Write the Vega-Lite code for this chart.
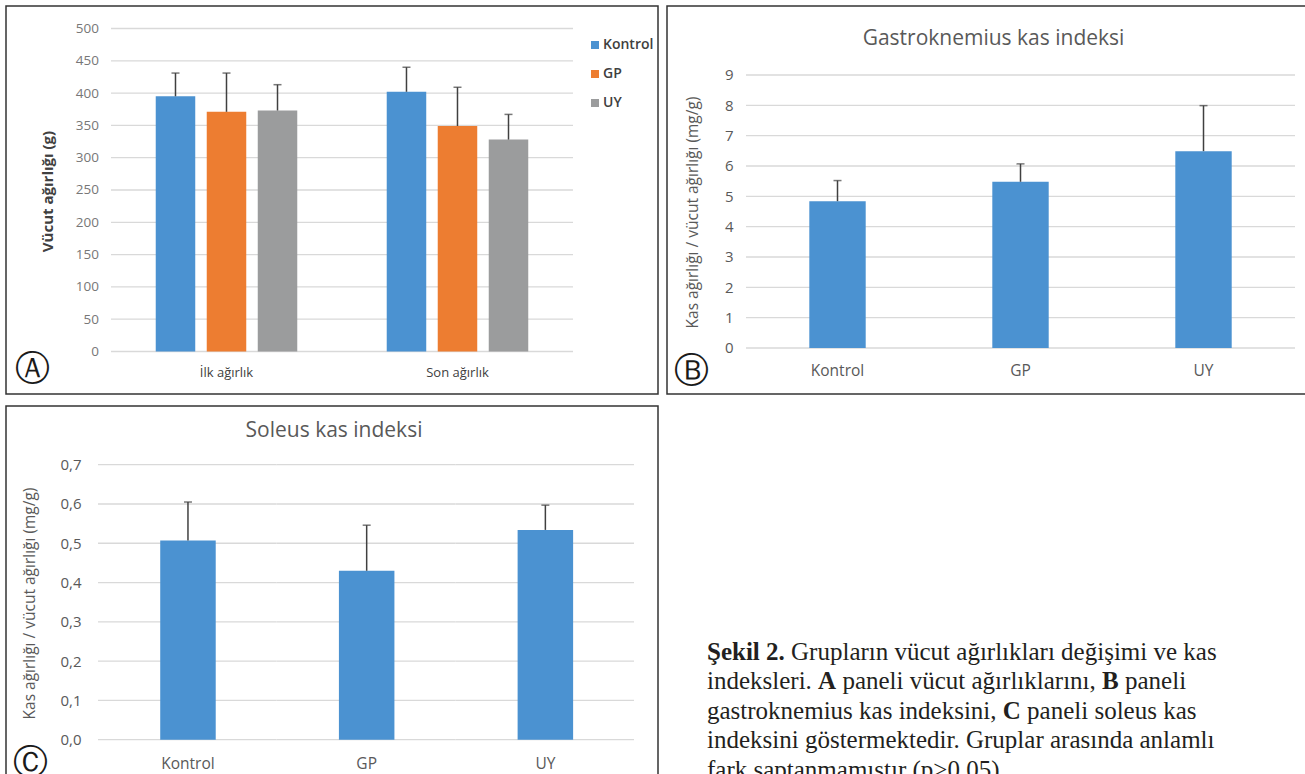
{
  "$schema": "https://vega.github.io/schema/vega-lite/v6.json",
  "padding": {"left": 5, "top": 5, "right": 0, "bottom": 0},
  "background": "white",
  "config": {
    "view": {"stroke": "#333333", "strokeWidth": 1.5},
    "axis": {"domain": false, "ticks": false, "tickSize": 0, "grid": false, "labelFont": "Open Sans", "titleFont": "Open Sans", "labelPadding": 0, "labelOverlap": false},
    "axisLeft": {"labelFontSize": 13.5, "titleFontSize": 15, "titleY": 185, "titleFontWeight": "bold", "labelOverlap": false}
  },
  "datasets": {
    "weights": [
      {"period": "İlk ağırlık", "group": "Kontrol", "mean": 395, "upper": 431},
      {"period": "İlk ağırlık", "group": "GP", "mean": 371, "upper": 431},
      {"period": "İlk ağırlık", "group": "UY", "mean": 373, "upper": 413},
      {"period": "Son ağırlık", "group": "Kontrol", "mean": 402, "upper": 440},
      {"period": "Son ağırlık", "group": "GP", "mean": 349, "upper": 409},
      {"period": "Son ağırlık", "group": "UY", "mean": 328, "upper": 367}
    ],
    "gastro": [
      {"group": "Kontrol", "mean": 4.84, "upper": 5.52},
      {"group": "GP", "mean": 5.48, "upper": 6.07},
      {"group": "UY", "mean": 6.49, "upper": 7.99}
    ],
    "soleus": [
      {"group": "Kontrol", "mean": 0.507, "upper": 0.605},
      {"group": "GP", "mean": 0.43, "upper": 0.546},
      {"group": "UY", "mean": 0.534, "upper": 0.597}
    ],
    "gridA": [
      {"period": "İlk ağırlık", "v": 0}, {"period": "İlk ağırlık", "v": 50}, {"period": "İlk ağırlık", "v": 100}, {"period": "İlk ağırlık", "v": 150},
      {"period": "İlk ağırlık", "v": 200}, {"period": "İlk ağırlık", "v": 250}, {"period": "İlk ağırlık", "v": 300}, {"period": "İlk ağırlık", "v": 350},
      {"period": "İlk ağırlık", "v": 400}, {"period": "İlk ağırlık", "v": 450}, {"period": "İlk ağırlık", "v": 500},
      {"period": "Son ağırlık", "v": 0}, {"period": "Son ağırlık", "v": 50}, {"period": "Son ağırlık", "v": 100}, {"period": "Son ağırlık", "v": 150},
      {"period": "Son ağırlık", "v": 200}, {"period": "Son ağırlık", "v": 250}, {"period": "Son ağırlık", "v": 300}, {"period": "Son ağırlık", "v": 350},
      {"period": "Son ağırlık", "v": 400}, {"period": "Son ağırlık", "v": 450}, {"period": "Son ağırlık", "v": 500}
    ],
    "gridB": [
      {"group": "Kontrol", "v": 0}, {"group": "Kontrol", "v": 1}, {"group": "Kontrol", "v": 2}, {"group": "Kontrol", "v": 3}, {"group": "Kontrol", "v": 4},
      {"group": "Kontrol", "v": 5}, {"group": "Kontrol", "v": 6}, {"group": "Kontrol", "v": 7}, {"group": "Kontrol", "v": 8}, {"group": "Kontrol", "v": 9},
      {"group": "GP", "v": 0}, {"group": "GP", "v": 1}, {"group": "GP", "v": 2}, {"group": "GP", "v": 3}, {"group": "GP", "v": 4},
      {"group": "GP", "v": 5}, {"group": "GP", "v": 6}, {"group": "GP", "v": 7}, {"group": "GP", "v": 8}, {"group": "GP", "v": 9},
      {"group": "UY", "v": 0}, {"group": "UY", "v": 1}, {"group": "UY", "v": 2}, {"group": "UY", "v": 3}, {"group": "UY", "v": 4},
      {"group": "UY", "v": 5}, {"group": "UY", "v": 6}, {"group": "UY", "v": 7}, {"group": "UY", "v": 8}, {"group": "UY", "v": 9}
    ],
    "gridC": [
      {"group": "Kontrol", "v": 0}, {"group": "Kontrol", "v": 0.1}, {"group": "Kontrol", "v": 0.2}, {"group": "Kontrol", "v": 0.3},
      {"group": "Kontrol", "v": 0.4}, {"group": "Kontrol", "v": 0.5}, {"group": "Kontrol", "v": 0.6}, {"group": "Kontrol", "v": 0.7},
      {"group": "GP", "v": 0}, {"group": "GP", "v": 0.1}, {"group": "GP", "v": 0.2}, {"group": "GP", "v": 0.3},
      {"group": "GP", "v": 0.4}, {"group": "GP", "v": 0.5}, {"group": "GP", "v": 0.6}, {"group": "GP", "v": 0.7},
      {"group": "UY", "v": 0}, {"group": "UY", "v": 0.1}, {"group": "UY", "v": 0.2}, {"group": "UY", "v": 0.3},
      {"group": "UY", "v": 0.4}, {"group": "UY", "v": 0.5}, {"group": "UY", "v": 0.6}, {"group": "UY", "v": 0.7}
    ],
    "caption": [
      {"line": 1, "seg": "b0", "text": "Şekil 2."},
      {"line": 1, "seg": "r1", "text": "Grupların vücut ağırlıkları değişimi ve kas"},
      {"line": 2, "seg": "r0", "text": "indeksleri."},
      {"line": 2, "seg": "b2a", "text": "A"},
      {"line": 2, "seg": "r2a", "text": "paneli vücut ağırlıklarını,"},
      {"line": 2, "seg": "b2b", "text": "B"},
      {"line": 2, "seg": "r2b", "text": "paneli"},
      {"line": 3, "seg": "r0", "text": "gastroknemius kas indeksini,"},
      {"line": 3, "seg": "b3", "text": "C"},
      {"line": 3, "seg": "r3", "text": "paneli soleus kas"},
      {"line": 4, "seg": "r0", "text": "indeksini göstermektedir. Gruplar arasında anlamlı"},
      {"line": 5, "seg": "r0", "text": "fark saptanmamıştır (p>0,05)."}
    ]
  },
  "spacing": 10,
  "vconcat": [
    {
      "spacing": 7,
      "hconcat": [
        {
          "width": 652,
          "height": 388,
          "layer": [
            {
              "data": {"name": "gridA"},
              "mark": {"type": "bar", "filled": false, "color": "#d9d9d9", "strokeWidth": 1.3},
              "encoding": {
                "x": {"field": "period", "type": "nominal", "title": "Ⓐ",
                  "scale": {"domain": ["İlk ağırlık", "Son ağırlık"], "paddingInner": 0, "paddingOuter": 0.4113, "align": 0.5526},
                  "axis": {"offset": -42.5, "labelPadding": 20.5, "labelBaseline": "middle", "labelAngle": 0, "labelFontSize": 13, "labelColor": "#404040",
                    "titleX": 26, "titleY": 16.5, "titleFont": "DejaVu Sans", "titleFontSize": 35, "titleFontWeight": "normal", "titleColor": "#1a1a1a",
                    "titleAlign": "center", "titleBaseline": "middle", "titleAngle": 0}},
                "y": {"field": "v", "type": "quantitative", "title": "Vücut ağırlığı (g)",
                  "scale": {"domain": [-65.8, 534.8], "nice": false, "zero": false},
                  "axis": {"offset": -92.5, "values": [0, 50, 100, 150, 200, 250, 300, 350, 400, 450, 500], "labelOverlap": false, "labelFontSize": 13.5, "labelColor": "#777777",
                    "titleX": -51.5, "titleY": 185, "titleFontSize": 15, "titleFontWeight": "bold", "titleColor": "#404040",
                    "titleAlign": "center", "titleBaseline": "middle", "titleAngle": -90}},
                "y2": {"field": "v"}
              }
            },
            {
              "data": {"name": "weights"},
              "encoding": {
                "x": {"field": "period", "type": "nominal", "title": "Ⓐ",
                  "scale": {"domain": ["İlk ağırlık", "Son ağırlık"], "paddingInner": 0, "paddingOuter": 0.4113, "align": 0.5526},
                  "axis": {"offset": -42.5, "labelPadding": 20.5, "labelBaseline": "middle", "labelAngle": 0, "labelFontSize": 13, "labelColor": "#404040",
                    "titleX": 26, "titleY": 16.5, "titleFont": "DejaVu Sans", "titleFontSize": 35, "titleFontWeight": "normal", "titleColor": "#1a1a1a",
                    "titleAlign": "center", "titleBaseline": "middle", "titleAngle": 0}},
                "xOffset": {"field": "group", "type": "nominal",
                  "scale": {"domain": ["Kontrol", "GP", "UY"], "paddingInner": 0.2255, "paddingOuter": 0.877}},
                "y": {"field": "mean", "type": "quantitative", "stack": null, "title": "Vücut ağırlığı (g)",
                  "scale": {"domain": [-65.8, 534.8], "nice": false, "zero": false},
                  "axis": {"offset": -92.5, "values": [0, 50, 100, 150, 200, 250, 300, 350, 400, 450, 500], "labelOverlap": false, "labelFontSize": 13.5, "labelColor": "#777777",
                    "titleX": -51.5, "titleY": 185, "titleFontSize": 15, "titleFontWeight": "bold", "titleColor": "#404040",
                    "titleAlign": "center", "titleBaseline": "middle", "titleAngle": -90}}
              },
              "layer": [
                {
                  "mark": {"type": "bar"},
                  "encoding": {
                    "color": {"field": "group", "type": "nominal",
                      "scale": {"domain": ["Kontrol", "GP", "UY"], "range": ["#4b92d1", "#ed7d31", "#9b9c9d"]},
                      "legend": {"orient": "none", "legendX": 582, "legendY": 32, "title": null, "symbolType": "square", "symbolSize": 64,
                        "symbolStrokeWidth": 0, "labelFont": "Open Sans", "labelFontSize": 14, "labelFontWeight": 600, "labelColor": "#404040",
                        "labelOffset": 1, "rowPadding": 15, "padding": 0}}
                  }
                },
                {
                  "mark": {"type": "rule", "color": "#404040", "strokeWidth": 1.5},
                  "encoding": {
                    "y2": {"field": "upper"}
                  }
                },
                {
                  "mark": {"type": "tick", "color": "#404040", "thickness": 1.5, "size": 8},
                  "encoding": {
                    "y": {"field": "upper", "type": "quantitative", "title": "Vücut ağırlığı (g)",
                      "scale": {"domain": [-65.8, 534.8], "nice": false, "zero": false},
                      "axis": {"offset": -92.5, "values": [0, 50, 100, 150, 200, 250, 300, 350, 400, 450, 500], "labelOverlap": false, "labelFontSize": 13.5, "labelColor": "#777777",
                        "titleX": -51.5, "titleY": 185, "titleFontSize": 15, "titleFontWeight": "bold", "titleColor": "#404040",
                        "titleAlign": "center", "titleBaseline": "middle", "titleAngle": -90}}
                  }
                }
              ]
            }
          ]
        },
        {
          "width": 639,
          "height": 388,
          "title": {"text": "Gastroknemius kas indeksi", "offset": -54, "baseline": "middle", "dx": 7, "fontSize": 21, "fontWeight": "normal", "color": "#595959", "font": "Open Sans"},
          "resolve": {"scale": {"x": "independent"}},
          "layer": [
            {
              "data": {"name": "gridB"},
              "mark": {"type": "bar", "filled": false, "color": "#d9d9d9", "strokeWidth": 1.3},
              "encoding": {
                "x": {"field": "group", "type": "nominal",
                  "scale": {"domain": ["Kontrol", "GP", "UY"], "paddingInner": 0, "paddingOuter": 0.2459, "align": 0.8778}, "axis": null},
                "y": {"field": "v", "type": "quantitative", "title": "Kas ağırlığı / vücut ağırlığı (mg/g)",
                  "scale": {"domain": [-1.5165, 11.2747], "nice": false, "zero": false},
                  "axis": {"offset": -66, "values": [0, 1, 2, 3, 4, 5, 6, 7, 8, 9], "labelOverlap": false, "labelFontSize": 15, "labelColor": "#595959",
                    "titleX": -41, "titleY": 206, "titleFontSize": 15.5, "titleFontWeight": "normal", "titleColor": "#595959",
                    "titleAlign": "center", "titleBaseline": "middle", "titleAngle": -90}},
                "y2": {"field": "v"}
              }
            },
            {
              "data": {"name": "gastro"},
              "encoding": {
                "x": {"field": "group", "type": "nominal", "title": "Ⓑ",
                  "scale": {"domain": ["Kontrol", "GP", "UY"], "paddingInner": 0.6918, "paddingOuter": 0.5918, "align": 0.657},
                  "axis": {"offset": -46, "labelPadding": 22, "labelBaseline": "middle", "labelAngle": 0, "labelFontSize": 15.5, "labelColor": "#595959",
                    "titleX": 24, "titleY": 22, "titleFont": "DejaVu Sans", "titleFontSize": 35, "titleFontWeight": "normal", "titleColor": "#1a1a1a",
                    "titleAlign": "center", "titleBaseline": "middle", "titleAngle": 0}}
              },
              "layer": [
                {
                  "mark": {"type": "bar", "color": "#4b92d1"},
                  "encoding": {
                    "y": {"field": "mean", "type": "quantitative", "title": "Kas ağırlığı / vücut ağırlığı (mg/g)", "scale": {"domain": [-1.5165, 11.2747], "nice": false, "zero": false}}
                  }
                },
                {
                  "mark": {"type": "rule", "color": "#404040", "strokeWidth": 1.5},
                  "encoding": {
                    "y": {"field": "mean", "type": "quantitative", "title": "Kas ağırlığı / vücut ağırlığı (mg/g)", "scale": {"domain": [-1.5165, 11.2747], "nice": false, "zero": false}},
                    "y2": {"field": "upper"}
                  }
                },
                {
                  "mark": {"type": "tick", "color": "#404040", "thickness": 1.5, "size": 8},
                  "encoding": {
                    "y": {"field": "upper", "type": "quantitative", "title": "Kas ağırlığı / vücut ağırlığı (mg/g)", "scale": {"domain": [-1.5165, 11.2747], "nice": false, "zero": false}}
                  }
                }
              ]
            }
          ]
        }
      ]
    },
    {
      "spacing": 48,
      "hconcat": [
        {
          "width": 652,
          "height": 380,
          "title": {"text": "Soleus kas indeksi", "offset": -46, "baseline": "middle", "dx": 2, "fontSize": 21, "fontWeight": "normal", "color": "#595959", "font": "Open Sans"},
          "resolve": {"scale": {"x": "independent"}},
          "layer": [
            {
              "data": {"name": "gridC"},
              "mark": {"type": "bar", "filled": false, "color": "#d9d9d9", "strokeWidth": 1.3},
              "encoding": {
                "x": {"field": "group", "type": "nominal",
                  "scale": {"domain": ["Kontrol", "GP", "UY"], "paddingInner": 0, "paddingOuter": 0.3246, "align": 0.7931}, "axis": null},
                "y": {"field": "v", "type": "quantitative", "title": "Kas ağırlığı / vücut ağırlığı (mg/g)",
                  "scale": {"domain": [-0.11785, 0.8494], "nice": false, "zero": false},
                  "axis": {"offset": -75, "values": [0, 0.1, 0.2, 0.3, 0.4, 0.5, 0.6, 0.7], "labelOverlap": false, "labelExpr": "replace(format(datum.value, '.1f'), '.', ',')",
                    "labelFontSize": 15, "labelColor": "#595959",
                    "titleX": -52, "titleY": 197, "titleFontSize": 15.5, "titleFontWeight": "normal", "titleColor": "#595959",
                    "titleAlign": "center", "titleBaseline": "middle", "titleAngle": -90}},
                "y2": {"field": "v"}
              }
            },
            {
              "data": {"name": "soleus"},
              "encoding": {
                "x": {"field": "group", "type": "nominal", "title": "Ⓒ",
                  "scale": {"domain": ["Kontrol", "GP", "UY"], "paddingInner": 0.6894, "paddingOuter": 0.669, "align": 0.645},
                  "axis": {"offset": -46.3, "labelPadding": 24, "labelBaseline": "middle", "labelAngle": 0, "labelFontSize": 15.5, "labelColor": "#595959",
                    "titleX": 24, "titleY": 22.5, "titleFont": "DejaVu Sans", "titleFontSize": 35, "titleFontWeight": "normal", "titleColor": "#1a1a1a",
                    "titleAlign": "center", "titleBaseline": "middle", "titleAngle": 0}}
              },
              "layer": [
                {
                  "mark": {"type": "bar", "color": "#4b92d1"},
                  "encoding": {
                    "y": {"field": "mean", "type": "quantitative", "title": "Kas ağırlığı / vücut ağırlığı (mg/g)", "scale": {"domain": [-0.11785, 0.8494], "nice": false, "zero": false}}
                  }
                },
                {
                  "mark": {"type": "rule", "color": "#404040", "strokeWidth": 1.5},
                  "encoding": {
                    "y": {"field": "mean", "type": "quantitative", "title": "Kas ağırlığı / vücut ağırlığı (mg/g)", "scale": {"domain": [-0.11785, 0.8494], "nice": false, "zero": false}},
                    "y2": {"field": "upper"}
                  }
                },
                {
                  "mark": {"type": "tick", "color": "#404040", "thickness": 1.5, "size": 8},
                  "encoding": {
                    "y": {"field": "upper", "type": "quantitative", "title": "Kas ağırlığı / vücut ağırlığı (mg/g)", "scale": {"domain": [-0.11785, 0.8494], "nice": false, "zero": false}}
                  }
                }
              ]
            }
          ]
        },
        {
          "width": 560,
          "height": 380,
          "view": {"stroke": null},
          "data": {"name": "caption"},
          "encoding": {
            "x": {"datum": 0, "type": "quantitative", "scale": {"domain": [0, 1]}, "axis": null},
            "y": {"field": "line", "type": "quantitative", "scale": {"domain": [-7.6102, 5.2712], "reverse": true, "nice": false, "zero": false}, "axis": null},
            "text": {"field": "text"}
          },
          "layer": [
            {"transform": [{"filter": "datum.seg === 'r0'"}], "mark": {"type": "text", "align": "left", "baseline": "alphabetic", "font": "Liberation Serif", "fontSize": 25, "color": "#231f20", "dx": 0}},
            {"transform": [{"filter": "datum.seg === 'b0'"}], "mark": {"type": "text", "align": "left", "baseline": "alphabetic", "font": "Liberation Serif", "fontSize": 25, "fontWeight": "bold", "color": "#231f20", "dx": 0}},
            {"transform": [{"filter": "datum.seg === 'r1'"}], "mark": {"type": "text", "align": "left", "baseline": "alphabetic", "font": "Liberation Serif", "fontSize": 25, "color": "#231f20", "dx": 84.05}},
            {"transform": [{"filter": "datum.seg === 'b2a'"}], "mark": {"type": "text", "align": "left", "baseline": "alphabetic", "font": "Liberation Serif", "fontSize": 25, "fontWeight": "bold", "color": "#231f20", "dx": 111.1}},
            {"transform": [{"filter": "datum.seg === 'r2a'"}], "mark": {"type": "text", "align": "left", "baseline": "alphabetic", "font": "Liberation Serif", "fontSize": 25, "color": "#231f20", "dx": 135.4}},
            {"transform": [{"filter": "datum.seg === 'b2b'"}], "mark": {"type": "text", "align": "left", "baseline": "alphabetic", "font": "Liberation Serif", "fontSize": 25, "fontWeight": "bold", "color": "#231f20", "dx": 395.1}},
            {"transform": [{"filter": "datum.seg === 'r2b'"}], "mark": {"type": "text", "align": "left", "baseline": "alphabetic", "font": "Liberation Serif", "fontSize": 25, "color": "#231f20", "dx": 418.0}},
            {"transform": [{"filter": "datum.seg === 'b3'"}], "mark": {"type": "text", "align": "left", "baseline": "alphabetic", "font": "Liberation Serif", "fontSize": 25, "fontWeight": "bold", "color": "#231f20", "dx": 295.8}},
            {"transform": [{"filter": "datum.seg === 'r3'"}], "mark": {"type": "text", "align": "left", "baseline": "alphabetic", "font": "Liberation Serif", "fontSize": 25, "color": "#231f20", "dx": 320.1}}
          ]
        }
      ]
    }
  ]
}
